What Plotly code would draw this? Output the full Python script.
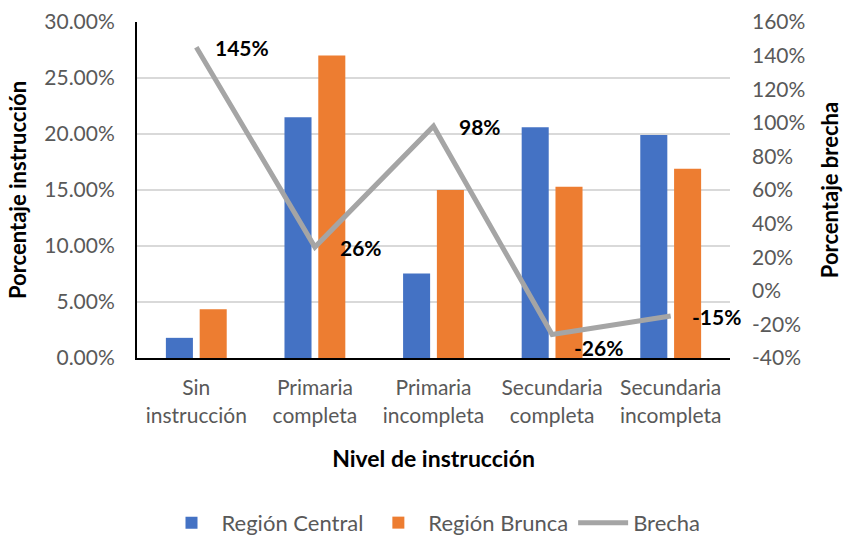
import plotly.graph_objects as go

categories = ["Sin<br>instrucción", "Primaria<br>completa", "Primaria<br>incompleta",
              "Secundaria<br>completa", "Secundaria<br>incompleta"]
central = [1.8, 21.5, 7.55, 20.6, 19.9]
brunca = [4.35, 27.0, 15.0, 15.3, 16.9]
brecha = [145, 26, 98, -26, -15]
brecha_labels = ["145%", "26%", "98%", "-26%", "-15%"]
label_yshift = [0, 0, 0, -13, 0]

left_ticks = [0, 5, 10, 15, 20, 25, 30]
right_ticks = [-40, -20, 0, 20, 40, 60, 80, 100, 120, 140, 160]

FONT = "Lato"
GRAY_TXT = "#595959"

fig = go.Figure()
fig.add_trace(go.Bar(x=categories, y=central, name="Región Central",
                     marker=dict(color="#4472C4", line=dict(width=0))))
fig.add_trace(go.Bar(x=categories, y=brunca, name="Región Brunca",
                     marker=dict(color="#ED7D31", line=dict(width=0))))
fig.add_trace(go.Scatter(x=categories, y=brecha, name="Brecha", yaxis="y2",
                         mode="lines", line=dict(color="#A5A5A5", width=5)))

for c, v, t, ys in zip(categories, brecha, brecha_labels, label_yshift):
    fig.add_annotation(x=c, y=v, xref="x", yref="y2", text="<b>" + t + "</b>",
                       showarrow=False, xshift=46, yshift=ys,
                       font=dict(family=FONT, size=21, color="#000000"))

fig.update_layout(
    width=843, height=539,
    margin=dict(l=137, r=113, t=22, b=181),
    paper_bgcolor="white", plot_bgcolor="white",
    font=dict(family=FONT, size=21, color=GRAY_TXT),
    barmode="group", bargap=0.43, bargroupgap=0.2,
    showlegend=True,
    legend=dict(orientation="h", x=0.5, xanchor="center", yref="container",
                y=0.03, yanchor="middle", font=dict(size=22, color=GRAY_TXT),
                itemwidth=50, traceorder="normal"),
    xaxis=dict(range=[-0.5, len(categories) - 0.5], autorange=False,
               showline=True, linecolor="#000000", linewidth=2, automargin=False,
               ticks="", tickfont=dict(size=21, color=GRAY_TXT),
               ticklabelstandoff=10,
               title=dict(text="<b>Nivel de instrucción</b>", standoff=25,
                          font=dict(size=23, color="#000000"))),
    yaxis=dict(range=[0, 30], tickvals=left_ticks, automargin=False,
               ticktext=[f"{v:.2f}%" for v in left_ticks],
               showline=True, linecolor="#000000", linewidth=2,
               showgrid=True, gridcolor="#D9D9D9", gridwidth=1.5,
               zeroline=False, ticks="", ticklabelstandoff=16,
               tickfont=dict(size=21, color=GRAY_TXT),
               title=dict(text="<b>Porcentaje instrucción</b>", standoff=12,
                          font=dict(size=22, color="#000000"))),
    yaxis2=dict(range=[-40, 160], overlaying="y", side="right", automargin=False,
                tickvals=right_ticks, ticktext=[f"{v}%" for v in right_ticks],
                showgrid=False, zeroline=False, showline=False, ticks="",
                ticklabelstandoff=21, tickfont=dict(size=21, color=GRAY_TXT),
                title=dict(text="<b>Porcentaje brecha</b>", standoff=19,
                           font=dict(size=22, color="#000000"))),
)

fig.write_html("out.html", config={"displayModeBar": False},
               post_script="document.body.style.margin='0';"
                           "document.body.style.overflow='hidden';")
